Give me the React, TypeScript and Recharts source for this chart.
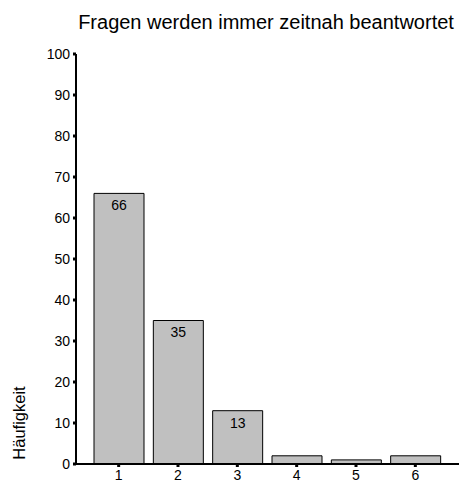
import { BarChart, Bar, XAxis, YAxis, LabelList } from 'recharts'

const categories = ['1', '2', '3', '4', '5', '6']
const counts = [66, 35, 13, 2, 1, 2]
const yTicks = [0, 10, 20, 30, 40, 50, 60, 70, 80, 90, 100]
const title = 'Fragen werden immer zeitnah beantwortet'
const yLabel = 'Häufigkeit'

const data = categories.map((c, i) => ({ cat: c, n: counts[i] }))

const font = '"Liberation Sans", Arial, sans-serif'

export default function App() {
  return (
    <div style={{ position: 'absolute', left: 0, top: 0, width: 464, height: 484, fontFamily: font, background: '#fff' }}>
      <div style={{ position: 'absolute', left: 0, width: 532, top: 11, textAlign: 'center', fontSize: 20, color: '#000', whiteSpace: 'nowrap' }}>
        {title}
      </div>
      <div style={{ position: 'absolute', left: 19, top: 423, fontSize: 16.5, color: '#000', transform: 'translate(-50%, -50%) rotate(-90deg)', whiteSpace: 'nowrap' }}>
        {yLabel}
      </div>
      <BarChart width={464} height={484} data={data} margin={{ top: 54, right: 5, bottom: 0, left: 0 }} barSize={50}>
        <XAxis xAxisId="top" orientation="top" dataKey="cat" height={0} tick={false} tickLine={false} axisLine={{ stroke: '#000', strokeWidth: 1.5 }} />
        <XAxis dataKey="cat" height={20} padding={{ left: 13, right: 14 }} axisLine={{ stroke: '#000', strokeWidth: 2 }}
          tickLine={{ stroke: '#000', strokeWidth: 3 }} tickSize={3} tickMargin={3}
          tick={{ fontSize: 14, fill: '#000', fontFamily: font }} />
        <YAxis domain={[0, 100]} ticks={yTicks} width={76} interval={0} axisLine={{ stroke: '#000', strokeWidth: 2 }}
          tickLine={{ stroke: '#000', strokeWidth: 3 }} tickSize={3} tickMargin={3}
          tick={{ fontSize: 14, fill: '#000', fontFamily: font }} />
        <YAxis yAxisId="r" orientation="right" domain={[0, 100]} width={0} tick={false} tickLine={false} axisLine={{ stroke: '#444', strokeWidth: 2 }} />
        <Bar dataKey="n" fill="#c0c0c0" stroke="#000" strokeWidth={1} isAnimationActive={false}>
          <LabelList dataKey="n" position="insideTop" offset={7} fill="#000" fontSize={14} fontFamily={font}
            formatter={(v: any) => (Number(v) >= 5 ? v : '')} />
        </Bar>
      </BarChart>
    </div>
  )
}
